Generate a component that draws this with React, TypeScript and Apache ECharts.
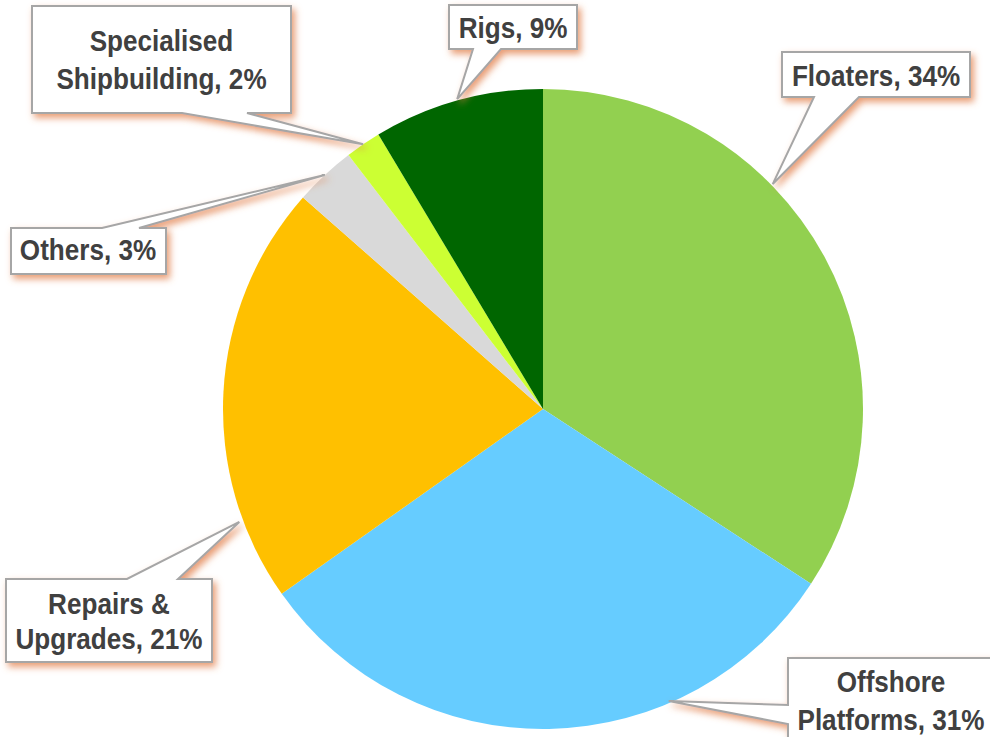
import React, { useEffect, useRef } from "react";
import * as echarts from "echarts";

// ---- data ----
const categories = [
  "Floaters",
  "Offshore Platforms",
  "Repairs & Upgrades",
  "Others",
  "Specialised Shipbuilding",
  "Rigs",
];
const shares = [34.2, 31.0, 21.3, 3.1, 1.8, 8.6];
const sliceColors = ["#92D050", "#66CCFF", "#FFC000", "#D9D9D9", "#CCFF33", "#006600"];

// ---- layout (annotation callouts) ----
const PIE_CX = 543;
const PIE_CY = 409;
const PIE_R = 320;
// box: [x, y, w, h]; side: edge the tail leaves from; base: [from, to] along that edge
// anchorAngle: degrees clockwise from 12 o'clock (null = slice middle); anchorR: radius of the tip
// wrap: split the name at its last space; textCx, lineYs: text centre positions
const callouts = [
  { box: [782, 52, 188, 45], side: "bottom", base: [814, 859], anchorAngle: 45.6, anchorR: 321.5, wrap: false, textCx: 876, lineYs: [76] },
  { box: [788, 658, 206, 88], side: "left", base: [705, 724], anchorAngle: 156.7, anchorR: 318, wrap: true, textCx: 891, lineYs: [682.5, 720] },
  { box: [6, 579, 206, 83], side: "top", base: [127, 178], anchorAngle: 249.6, anchorR: 324, wrap: true, textCx: 109, lineYs: [604.5, 639] },
  { box: [11, 228, 155, 46], side: "top", base: [102, 139], anchorAngle: null, anchorR: 320, wrap: false, textCx: 88, lineYs: [250.5] },
  { box: [32, 6, 259, 107], side: "bottom", base: [182, 247], anchorAngle: null, anchorR: 320, wrap: true, textCx: 161.5, lineYs: [41, 79.5] },
  { box: [449, 5, 128, 44], side: "bottom", base: [473, 501], anchorAngle: null, anchorR: 321.5, wrap: false, textCx: 513, lineYs: [28.5] },
];

function buildGraphics() {
  const total = shares.reduce((a, b) => a + b, 0);
  const els: any[] = [];
  let cum = 0;
  shares.forEach((v, i) => {
    const start = (cum / total) * 360;
    cum += v;
    const end = (cum / total) * 360;
    const c = callouts[i];
    const ang = ((c.anchorAngle ?? (start + end) / 2) * Math.PI) / 180;
    const ax = PIE_CX + c.anchorR * Math.sin(ang);
    const ay = PIE_CY - c.anchorR * Math.cos(ang);
    const [x, y, w, h] = c.box;
    const r = x + w;
    const b = y + h;
    let pts: number[][];
    if (c.side === "bottom") {
      pts = [[x, y], [r, y], [r, b], [c.base[1], b], [ax, ay], [c.base[0], b], [x, b]];
    } else if (c.side === "top") {
      pts = [[x, y], [c.base[0], y], [ax, ay], [c.base[1], y], [r, y], [r, b], [x, b]];
    } else {
      pts = [[x, y], [r, y], [r, b], [x, b], [x, c.base[1]], [ax, ay], [x, c.base[0]]];
    }
    els.push({
      type: "polygon",
      z: 10,
      shape: { points: pts },
      style: {
        fill: "#FFFFFF",
        stroke: "#A6A6A6",
        lineWidth: 2,
        lineJoin: "miter",
        shadowColor: "rgba(225,125,70,0.75)",
        shadowBlur: 7,
        shadowOffsetX: 3,
        shadowOffsetY: 4,
      },
    });
    const pct = Math.round((v / total) * 100);
    const name = categories[i];
    let lines: string[];
    if (c.wrap) {
      const k = name.lastIndexOf(" ");
      lines = [name.slice(0, k), name.slice(k + 1) + ", " + pct + "%"];
    } else {
      lines = [name + ", " + pct + "%"];
    }
    lines.forEach((t, li) => {
      els.push({
        type: "text",
        z: 11,
        x: c.textCx,
        y: c.lineYs[li],
        scaleX: 0.9,
        style: {
          text: t,
          x: 0,
          y: 0,
          fill: "#404040",
          font: 'bold 29px "Liberation Sans", Arial, sans-serif',
          textAlign: "center",
          textVerticalAlign: "middle",
          verticalAlign: "middle",
        },
      });
    });
  });
  return els;
}

export default function App() {
  const ref = useRef<HTMLDivElement>(null);
  useEffect(() => {
    if (!ref.current) return;
    const chart = echarts.init(ref.current, undefined, { renderer: "svg" });
    chart.setOption({
      animation: false,
      backgroundColor: "#FFFFFF",
      series: [
        {
          type: "pie",
          center: [PIE_CX, PIE_CY],
          radius: PIE_R,
          startAngle: 90,
          clockwise: true,
          label: { show: false },
          labelLine: { show: false },
          emphasis: { disabled: true },
          itemStyle: { borderWidth: 0 },
          data: categories.map((n, i) => ({
            name: n,
            value: shares[i],
            itemStyle: { color: sliceColors[i] },
          })),
        },
      ],
      graphic: buildGraphics(),
    });
    return () => chart.dispose();
  }, []);
  return (
    <div
      ref={ref}
      style={{ position: "fixed", left: 0, top: 0, width: 990, height: 737 }}
    />
  );
}
